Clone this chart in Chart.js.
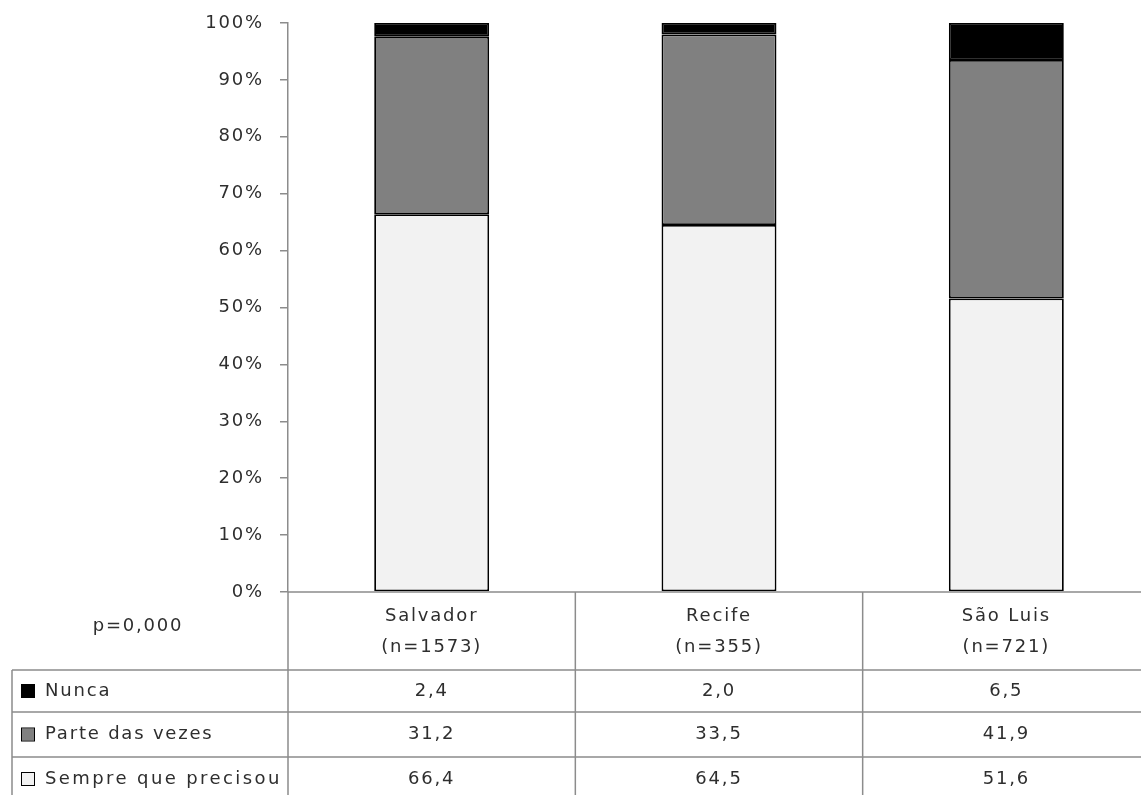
<!DOCTYPE html>
<html>
<head>
<meta charset="utf-8">
<script src="https://cdn.jsdelivr.net/npm/chart.js@4/dist/chart.umd.min.js"></script>
<style>
  html, body { margin: 0; padding: 0; background: #fff; overflow: hidden; }
  #wrap { position: relative; width: 1150px; height: 795px; }
</style>
</head>
<body>
<div id="wrap"><canvas id="c"></canvas></div>
<script>
// ---- data ----
const categories = ['Salvador', 'Recife', 'São Luis'];
const sampleSizes = ['(n=1573)', '(n=355)', '(n=721)'];
const nunca = [2.4, 2.0, 6.5];
const parteDasVezes = [31.2, 33.5, 41.9];
const sempreQuePrecisou = [66.4, 64.5, 51.6];
const seriesNames = ['Nunca', 'Parte das vezes', 'Sempre que precisou'];
const pValueLabel = 'p=0,000';
const yTicks = [0, 10, 20, 30, 40, 50, 60, 70, 80, 90, 100];

const FONT = 'DejaVu Sans';
const FSIZE = 18;
const LS = '1.8px';
const TXT = '#2e2e2e';
const LINE = '#8c8c8c';
const colors = { nunca: '#000000', parte: '#808080', sempre: '#f2f2f2' };

const fmt = v => v.toFixed(1).replace('.', ',');

const spacingPlugin = {
  id: 'spacing',
  beforeDraw(chart) { chart.ctx.letterSpacing = LS; }
};

const tablePlugin = {
  id: 'dataTable',
  afterDraw(chart) {
    const ctx = chart.ctx;
    const ca = chart.chartArea;
    const xs = chart.scales.x;
    const bottom = 800;
    const headerBottom = 670;
    const rowLines = [670, 712, 757];
    const rowCenters = [691, 734.5, 779];
    const tableLeft = 12;
    const half = (xs.getPixelForValue(1) - xs.getPixelForValue(0)) / 2;

    ctx.save();
    ctx.letterSpacing = LS;
    ctx.strokeStyle = LINE;
    ctx.lineWidth = 1.5;
    ctx.beginPath();
    ctx.moveTo(ca.left, ca.bottom); ctx.lineTo(ca.right, ca.bottom);
    rowLines.forEach(y => { ctx.moveTo(tableLeft, y); ctx.lineTo(ca.right, y); });
    ctx.moveTo(tableLeft, headerBottom); ctx.lineTo(tableLeft, bottom);
    ctx.moveTo(ca.left, ca.bottom); ctx.lineTo(ca.left, bottom);
    categories.forEach((c, i) => {
      const xr = xs.getPixelForValue(i) + half;
      ctx.moveTo(xr, ca.bottom); ctx.lineTo(xr, bottom);
    });
    ctx.stroke();

    ctx.fillStyle = TXT;
    ctx.font = FSIZE + 'px "' + FONT + '"';
    ctx.textAlign = 'center';
    ctx.textBaseline = 'middle';
    ctx.fillText(pValueLabel, 138, 626);
    categories.forEach((c, i) => {
      const x = xs.getPixelForValue(i);
      ctx.fillText(c, x, 616);
      ctx.fillText(sampleSizes[i], x, 647);
    });
    const rows = [
      { name: seriesNames[0], data: nunca, color: colors.nunca },
      { name: seriesNames[1], data: parteDasVezes, color: colors.parte },
      { name: seriesNames[2], data: sempreQuePrecisou, color: colors.sempre }
    ];
    rows.forEach((r, ri) => {
      const y = rowCenters[ri];
      ctx.fillStyle = r.color;
      ctx.fillRect(22, y - 6, 12, 12);
      ctx.strokeStyle = '#000';
      ctx.lineWidth = 1;
      ctx.strokeRect(21.5, y - 6.5, 13, 13);
      ctx.fillStyle = TXT;
      ctx.textAlign = 'left';
      ctx.letterSpacing = ri === 2 ? '2.4px' : LS;
      ctx.fillText(r.name, 45, y);
      ctx.letterSpacing = LS;
      ctx.textAlign = 'center';
      r.data.forEach((v, i) => {
        ctx.fillText(fmt(v), xs.getPixelForValue(i), y);
      });
    });
    ctx.restore();
  }
};

new Chart(document.getElementById('c'), {
  type: 'bar',
  data: {
    labels: categories,
    datasets: [
      { label: seriesNames[2], data: sempreQuePrecisou, backgroundColor: colors.sempre },
      { label: seriesNames[1], data: parteDasVezes, backgroundColor: colors.parte },
      { label: seriesNames[0], data: nunca, backgroundColor: colors.nunca }
    ]
  },
  options: {
    responsive: true,
    maintainAspectRatio: false,
    animation: false,
    layout: { padding: { top: 23, left: 0, right: 0, bottom: 203 } },
    datasets: {
      bar: {
        barPercentage: 0.4,
        categoryPercentage: 1.0,
        borderColor: '#000',
        borderWidth: 1.8,
        borderSkipped: false
      }
    },
    plugins: { legend: { display: false }, tooltip: { enabled: false } },
    scales: {
      x: { stacked: true, display: false },
      y: {
        stacked: true,
        min: 0,
        max: 100,
        afterBuildTicks: s => { s.ticks = yTicks.map(v => ({ value: v })); },
        afterFit: s => { s.width = 288; s.paddingTop = 0; s.paddingBottom = 0; },
        ticks: {
          callback: v => v + '%',
          color: TXT,
          font: { family: FONT, size: FSIZE },
          padding: 16
        },
        grid: { drawOnChartArea: false, tickLength: 8, color: LINE, lineWidth: 1.5 },
        border: { color: LINE, width: 1.5 }
      }
    }
  },
  plugins: [spacingPlugin, tablePlugin]
});
</script>
</body>
</html>
